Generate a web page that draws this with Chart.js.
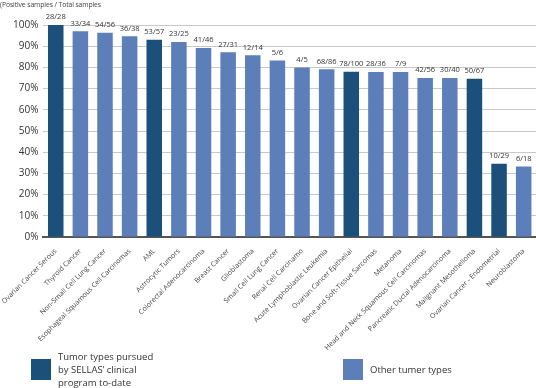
<!DOCTYPE html>
<html>
<head>
<meta charset="utf-8">
<script src="https://cdn.jsdelivr.net/npm/chart.js@4"></script>
<style>
  html, body { margin: 0; padding: 0; background: #fff; }
  #wrap { position: relative; width: 536px; height: 388px; overflow: hidden; font-family: "Open Sans", sans-serif; }
  #c { position: absolute; left: 0; top: 0; }
  #title { position: absolute; left: 0; top: 0; font-size: 6.8px; letter-spacing: -0.1px; color: #444; white-space: nowrap; }
  .sw { position: absolute; width: 20px; height: 21px; }
  .lt { position: absolute; font-size: 9.5px; line-height: 13px; color: #333; white-space: nowrap; }
</style>
</head>
<body>
<div id="wrap">
  <canvas id="c" width="536" height="388"></canvas>
  <div id="title">(Positive samples / Total samples</div>
  <div class="sw" style="left:31px;top:359px;background:#1a5079"></div>
  <div class="lt" style="left:58px;top:350px">Tumor types pursued<br>by SELLAS’ clinical<br>program to-date</div>
  <div class="sw" style="left:343px;top:359px;background:#5c7fba"></div>
  <div class="lt" style="left:370px;top:363px">Other tumer types</div>
</div>
<script>
const categories = [
  "Ovarian Cancer Serous", "Thyroid Cancer", "Non-Small Cell Lung Cancer",
  "Esophageal Squamous Cell Carcinomas", "AML", "Astrocytic Tumors",
  "Colorectal Adenocarcinoma", "Breast Cancer", "Glioblastoma",
  "Small Cell Lung Cancer", "Renal Cell Carcinamo", "Acute Lymphoblastic Leukemia",
  "Ovarian Cancer Epithelial", "Bone and Soft-Tissue Sarcomas", "Metanoma",
  "Head and Neck Squamous Cell Carcinomas", "Pancreatic Ductal Adenocarcinoma",
  "Malignant Mesothelioma", "Ovarian Cancer - Endometrial", "Neuroblastoma"
];
const percentPositive = [100, 97.1, 96.4, 94.7, 93.0, 92.0, 89.1, 87.1, 85.7, 83.3,
  80.0, 79.1, 78.0, 77.8, 77.8, 75.0, 75.0, 74.6, 34.5, 33.3];
const sampleLabels = ["28/28", "33/34", "54/56", "36/38", "53/57", "23/25", "41/46",
  "27/31", "12/14", "5/6", "4/5", "68/86", "78/100", "28/36", "7/9", "42/56",
  "30/40", "50/67", "10/29", "6/18"];
const pursuedBySellas = [true, false, false, false, true, false, false, false, false, false,
  false, false, true, false, false, false, false, true, true, false];
const yTickLabels = ["0%", "10%", "20%", "30%", "40%", "50%", "60%", "70%", "80%", "90%", "100%"];

const DARK = "#1a5079", LIGHT = "#5c7fba";

const barLabelPlugin = {
  id: "barLabels",
  afterDatasetsDraw(chart) {
    const ctx = chart.ctx;
    const meta = chart.getDatasetMeta(0);
    ctx.save();
    ctx.font = "7.5px 'Open Sans', sans-serif";
    ctx.fillStyle = "#333";
    ctx.textAlign = "center";
    ctx.textBaseline = "bottom";
    meta.data.forEach((el, i) => {
      ctx.fillText(sampleLabels[i], el.x, el.y - 4);
    });
    ctx.restore();
  }
};

new Chart(document.getElementById("c"), {
  type: "bar",
  data: {
    labels: categories,
    datasets: [{
      data: percentPositive,
      backgroundColor: pursuedBySellas.map(p => p ? DARK : LIGHT),
      categoryPercentage: 1,
      barPercentage: 0.63
    }]
  },
  options: {
    responsive: false,
    animation: false,
    layout: { padding: { top: 25, left: 0, right: 0, bottom: 0 } },
    plugins: { legend: { display: false }, tooltip: { enabled: false } },
    scales: {
      x: {
        grid: { display: false },
        border: { display: true, color: "#555", width: 2 },
        ticks: {
          minRotation: 45, maxRotation: 45, autoSkip: false, padding: 2,
          color: "#444", font: { family: "'Open Sans', sans-serif", size: 7 }
        },
        afterFit(scale) { scale.height = 151; }
      },
      y: {
        min: 0, max: 100,
        border: { display: false },
        grid: { color: "#c8c8c8", drawTicks: false },
        ticks: {
          stepSize: 10, padding: 5, color: "#333",
          font: { family: "'Open Sans', sans-serif", size: 10 },
          callback: (v, i) => yTickLabels[i]
        },
        afterFit(scale) { scale.width = 43; }
      }
    }
  },
  plugins: [barLabelPlugin]
});
</script>
</body>
</html>
